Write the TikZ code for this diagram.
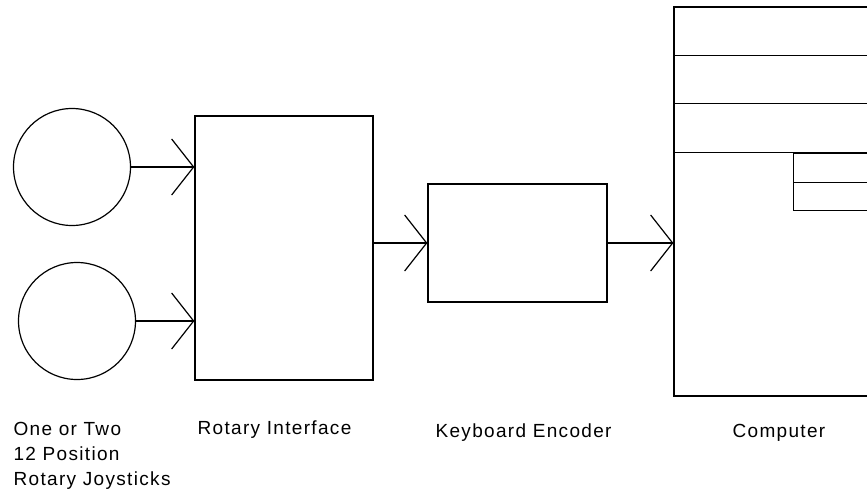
\documentclass[tikz,border=0pt]{standalone}
\usepackage{fontspec}
\setmainfont{Liberation Sans}[LetterSpace=7]
\usetikzlibrary{arrows.meta}
\begin{document}
\begin{tikzpicture}[x=1pt,y=-1pt, line width=1.2pt,
  box/.style={draw, rectangle, inner sep=0pt},
  joy/.style={draw, circle, inner sep=0pt, minimum size=117pt},
  arr/.style={-{Straight Barb[length=22pt,width=56pt]}},
  lbl/.style={font=\fontsize{19}{25}\selectfont, inner sep=0pt}]
\useasboundingbox (0,0) rectangle (867,491);
\clip (0,0) rectangle (867,491);
% joysticks
\node[joy] (j1) at (72,167) {};
\node[joy] (j2) at (77,321) {};
% boxes
\node[box, minimum width=178pt, minimum height=264pt] (ri) at (284,248) {};
\node[box, minimum width=179pt, minimum height=118pt] (ke) at (517.5,243) {};
\node[box, minimum width=240pt, minimum height=389pt] (comp) at (794,201.5) {};
\draw ([yshift=-49pt]comp.north west) -- ++(210,0);
\draw ([yshift=-97pt]comp.north west) -- ++(210,0);
\draw ([yshift=-146pt]comp.north west) -- ++(210,0);
\node[box, minimum width=120pt, minimum height=57pt, anchor=north west] (slot) at (793,153) {};
\draw (slot.west) -- (slot.east);
% connectors
\draw[arr] (j1.east) -- (j1.east -| ri.west);
\draw[arr] (j2.east) -- (j2.east -| ri.west);
\draw[arr] (ke.west -| ri.east) -- (ke.west);
\draw[arr] (ke.east) -- (ke.east -| comp.west);
% labels
\node[lbl, anchor=north west, align=left] (tj) at (13,422) {One or Two\\12 Position\\Rotary Joysticks};
\node[lbl, anchor=base west] (tri) at (197,434) {Rotary Interface};
\node[lbl, anchor=base west] (tke) at (435,437) {Keyboard Encoder};
\node[lbl, anchor=base west] (tc) at (732,437) {Computer};
\end{tikzpicture}
\end{document}
